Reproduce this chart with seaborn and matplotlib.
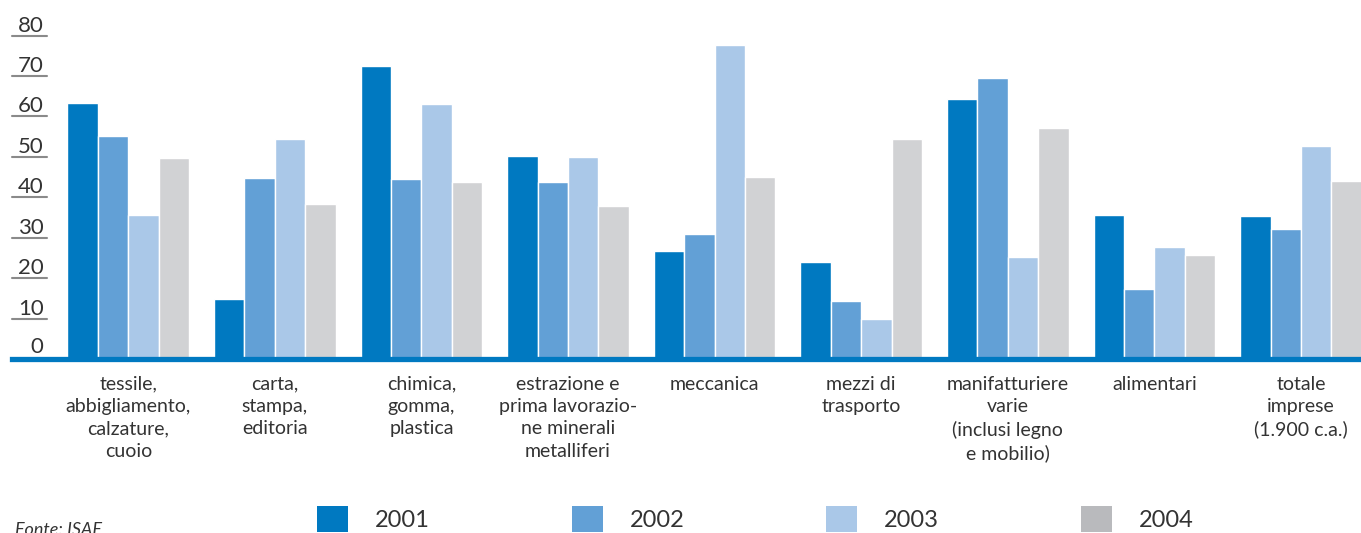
import matplotlib
matplotlib.use('Agg')
import matplotlib.pyplot as plt
import matplotlib.transforms as mtransforms
from matplotlib.patches import Patch
import seaborn as sns
import pandas as pd
import numpy as np

# dati (valori %)
settori = ["tessile,\nabbigliamento,\ncalzature,\ncuoio",
           "carta,\nstampa,\neditoria",
           "chimica,\ngomma,\nplastica",
           "estrazione e\nprima lavorazio-\nne minerali\nmetalliferi",
           "meccanica",
           "mezzi di\ntrasporto",
           "manifatturiere\nvarie\n(inclusi legno\ne mobilio)",
           "alimentari",
           "totale\nimprese\n(1.900 c.a.)"]
anni = ["2001", "2002", "2003", "2004"]
v2001 = [63.4, 14.9, 72.5, 50.2, 26.7, 24.0, 64.4, 35.6, 35.4]
v2002 = [55.2, 44.8, 44.6, 43.8, 30.9, 14.4, 69.6, 17.3, 32.2]
v2003 = [35.6, 54.5, 63.1, 50.0, 77.7, 9.9, 25.2, 27.7, 52.7]
v2004 = [49.8, 38.4, 43.8, 37.9, 45.0, 54.5, 57.2, 25.7, 44.1]
yticks = [0, 10, 20, 30, 40, 50, 60, 70, 80]

colori = ['#0079c1', '#62a0d6', '#aac8e8', '#d1d2d4']
colori_legenda = ['#0079c1', '#62a0d6', '#aac8e8', '#b9babd']

rows = []
for anno, vals in zip(anni, [v2001, v2002, v2003, v2004]):
    for s, v in zip(settori, vals):
        rows.append([s, anno, v])
df = pd.DataFrame(rows, columns=['settore', 'anno', 'valore'])

sns.set_style('white')
plt.rcParams['font.family'] = ['Lato', 'DejaVu Sans']

fig = plt.figure(figsize=(13.61, 5.33), dpi=100)
ax = fig.add_axes([12/1361, (533-359)/533, 1349/1361, 359/533])

sns.barplot(data=df, x='settore', y='valore', hue='anno', order=settori,
            hue_order=anni, palette=colori, saturation=1, width=0.83,
            legend=False, ax=ax)

ax.set_xlim(-0.793, 8.409)
ax.set_ylim(0, 88.8)
ax.set_xlabel('')
ax.set_ylabel('')
ax.set_yticks([])

ax.set_xticks(range(len(settori)))
ax.set_xticklabels(settori, fontsize=14, color='#333333', linespacing=1.38)
ax.set_xticks(np.arange(len(settori)) - 0.5, minor=True)
ax.tick_params(axis='x', which='major', length=0, pad=12)
ax.tick_params(axis='x', which='minor', length=13.7, width=1.3,
               direction='inout', color='#5aa0d8')

for sp in ['top', 'right', 'left']:
    ax.spines[sp].set_visible(False)
ax.spines['bottom'].set_color('#0079c1')
ax.spines['bottom'].set_linewidth(3.8)

# etichette asse y sottolineate
tr = mtransforms.blended_transform_factory(ax.transAxes, ax.transData)
for v in yticks:
    off = 1.5 if v == 0 else 1.0
    ax.text(0.0235, v + off, str(v), transform=tr, ha='right', va='baseline',
            fontsize=16, color='#333333')
    if v > 0:
        ax.plot([0, 0.026], [v, v], transform=tr, color='#8a8a8a', lw=1.5,
                clip_on=False)

handles = [Patch(facecolor=c, edgecolor='none') for c in colori_legenda]
fig.legend(handles, anni, ncol=4, loc='center left',
           bbox_to_anchor=(317/1361, (533-519)/533), frameon=False,
           fontsize=17, handlelength=1.31, handleheight=1.3,
           handletextpad=1.15, columnspacing=6.0, borderaxespad=0, borderpad=0,
           labelcolor='#333333')

fig.text(15/1361, -0.004, 'Fonte: ISAE', style='italic', fontsize=13,
         color='#333333', va='baseline')

fig.savefig('out.png', dpi=100)
